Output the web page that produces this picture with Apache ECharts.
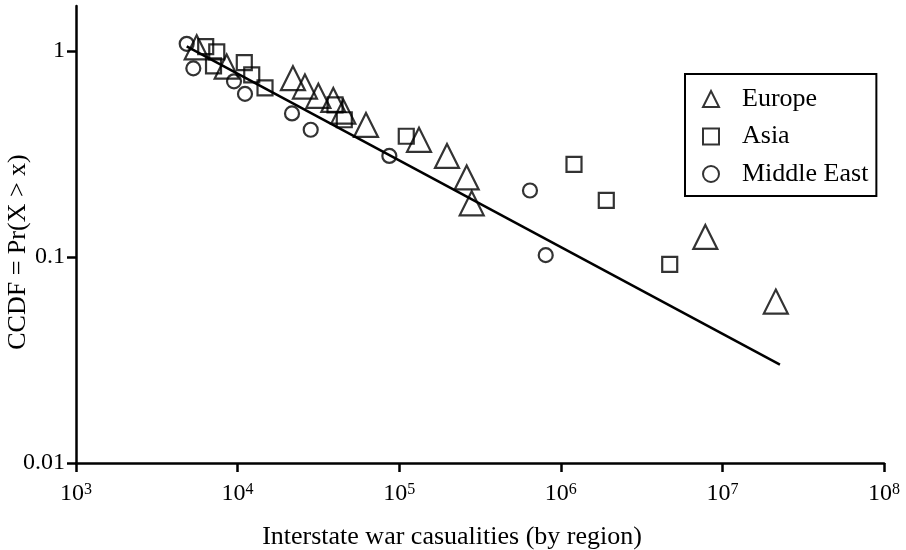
<!DOCTYPE html>
<html><head><meta charset="utf-8">
<script src="https://cdn.jsdelivr.net/npm/echarts@6/dist/echarts.min.js"></script>
<style>html,body{margin:0;padding:0;background:#fff}#c{width:906px;height:550px}</style>
</head><body><div id="c"></div>
<script>
// ---- data ----
const europeX = [5585, 8560, 22000, 26100, 31600, 39100, 45100, 62300, 132600, 197600, 261600, 281000, 7840000, 21400000];
const europeY = [1.04, 0.839, 0.737, 0.671, 0.605, 0.578, 0.507, 0.437, 0.370, 0.309, 0.243, 0.182, 0.125, 0.0607];
const asiaX = [6347, 7430, 7096, 11000, 12230, 14780, 40060, 45730, 110600, 1207000, 1912000, 4720000];
const asiaY = [1.049, 0.989, 0.846, 0.877, 0.765, 0.661, 0.547, 0.463, 0.385, 0.281, 0.188, 0.092];
const meX = [4842, 5321, 9500, 11110, 21710, 28340, 86900, 644500, 806700];
const meY = [1.081, 0.822, 0.711, 0.618, 0.497, 0.414, 0.309, 0.210, 0.102];
const fitX = [4842, 22700000];
const fitY = [1.05, 0.030];
const xTickValues = [1e3, 1e4, 1e5, 1e6, 1e7, 1e8];
const xTickExps = [3, 4, 5, 6, 7, 8];
const yTickValues = [0.01, 0.1, 1];
const yTickLabels = ['0.01', '0.1', '1'];
const seriesNames = ['Europe', 'Asia', 'Middle East'];
const xTitle = 'Interstate war casualities (by region)';
const yTitle = 'CCDF = Pr(X > x)';

const pairs = (xs, ys) => xs.map((x, i) => [x, ys[i]]);
const FONT = '"Liberation Serif", "DejaVu Serif", serif';
const mk = {color: 'rgba(0,0,0,0)', borderColor: '#000', borderWidth: 2.2};

function nearestIndex(arr, v) {
  let best = -1, bd = 1e-6;
  arr.forEach((a, i) => { const d = Math.abs(Math.log10(a) - Math.log10(v)); if (d < bd) { bd = d; best = i; } });
  return best;
}

const chart = echarts.init(document.getElementById('c'), null, {renderer: 'canvas'});
chart.setOption({
  animation: false,
  backgroundColor: '#fff',
  grid: {left: 76, right: 22, top: 6, bottom: 87, containLabel: false, outerBoundsMode: 'none'},
  xAxis: {
    type: 'log', logBase: 10, min: 1000, max: 1e8,
    name: xTitle, nameLocation: 'middle', nameGap: 61, nameMoveOverlap: false,
    nameTextStyle: {fontFamily: FONT, fontSize: 26, color: '#000', padding: [0, 56, 0, 0]},
    axisLine: {show: true, lineStyle: {color: '#000', width: 2.5}},
    axisTick: {show: true, inside: false, length: 9, lineStyle: {color: '#000', width: 2.5}, customValues: xTickValues},
    splitLine: {show: false},
    minorTick: {show: false},
    axisLabel: {
      margin: 19, color: '#000', customValues: xTickValues,
      formatter: v => {
        const i = nearestIndex(xTickValues, v);
        return i >= 0 ? '{b|10}{s|' + xTickExps[i] + '}' : '';
      },
      rich: {
        b: {fontFamily: FONT, fontSize: 24, lineHeight: 24, color: '#000'},
        s: {fontFamily: FONT, fontSize: 16, lineHeight: 16, color: '#000', verticalAlign: 'top'}
      }
    }
  },
  yAxis: {
    type: 'log', logBase: 10, min: 0.01, max: 1.65,
    name: yTitle, nameLocation: 'middle', nameGap: 45, nameRotate: 90, nameMoveOverlap: false,
    nameTextStyle: {fontFamily: FONT, fontSize: 26, color: '#000', padding: [0, 35, 0, 0]},
    axisLine: {show: true, lineStyle: {color: '#000', width: 2.5}},
    axisTick: {show: true, inside: false, length: 9, lineStyle: {color: '#000', width: 2.5}, customValues: yTickValues},
    splitLine: {show: false},
    minorTick: {show: false},
    axisLabel: {
      margin: 11, color: '#000', fontFamily: FONT, fontSize: 24, customValues: yTickValues,
      formatter: v => {
        const i = nearestIndex(yTickValues, v);
        return i >= 0 ? yTickLabels[i] : '';
      }
    }
  },
  legend: {
    show: true, orient: 'vertical', left: 685, top: 74,
    data: seriesNames,
    backgroundColor: '#fff', borderColor: '#000', borderWidth: 2, borderRadius: 0,
    padding: [12, 8, 9, 17], itemGap: 11.5,
    itemWidth: 16, itemHeight: 16,
    textStyle: {fontFamily: FONT, fontSize: 26, lineHeight: 26, color: '#000', padding: [0, 0, 0, 18]},
    itemStyle: {color: 'rgba(0,0,0,0)', borderColor: '#000', borderWidth: 2}
  },
  series: [
    {name: 'fit', type: 'line', data: pairs(fitX, fitY), symbol: 'none',
     lineStyle: {color: '#000', width: 2.5}, z: 3, silent: true},
    {name: seriesNames[0], type: 'scatter', symbol: 'triangle', symbolSize: 24,
     data: pairs(europeX, europeY), itemStyle: mk, z: 4},
    {name: seriesNames[1], type: 'scatter', symbol: 'rect', symbolSize: 15,
     data: pairs(asiaX, asiaY), itemStyle: mk, z: 4},
    {name: seriesNames[2], type: 'scatter', symbol: 'circle', symbolSize: 14,
     data: pairs(meX, meY), itemStyle: mk, z: 4}
  ]
});
</script>
</body></html>
